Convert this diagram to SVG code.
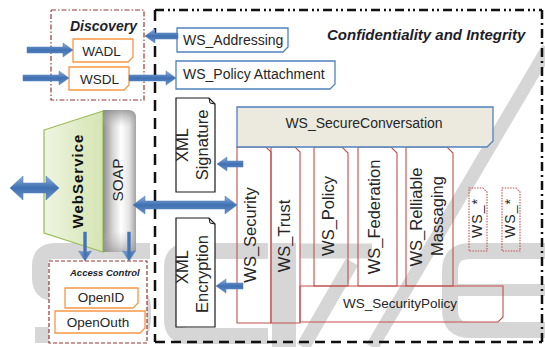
<svg xmlns="http://www.w3.org/2000/svg" width="545" height="347" viewBox="0 0 545 347">
<defs>
<linearGradient id="gArrowH" x1="0" y1="0" x2="0" y2="1"><stop offset="0" stop-color="#8fb0dc"/><stop offset="0.5" stop-color="#3f70b2"/><stop offset="1" stop-color="#6a93c9"/></linearGradient>
<linearGradient id="gArrowV" x1="0" y1="0" x2="1" y2="0"><stop offset="0" stop-color="#8fb0dc"/><stop offset="0.5" stop-color="#3f70b2"/><stop offset="1" stop-color="#6a93c9"/></linearGradient>
<linearGradient id="gGreen" x1="0" y1="0" x2="1" y2="0"><stop offset="0" stop-color="#eef4e1"/><stop offset="1" stop-color="#d5e5b2"/></linearGradient>
<linearGradient id="gSoap" x1="0" y1="0" x2="1" y2="0"><stop offset="0" stop-color="#8c8c8c"/><stop offset="0.3" stop-color="#d6d6d6"/><stop offset="0.55" stop-color="#ffffff"/><stop offset="0.8" stop-color="#e2e2e2"/><stop offset="1" stop-color="#a3a3a3"/></linearGradient>
<linearGradient id="gSoapV" x1="0" y1="0" x2="0" y2="1"><stop offset="0" stop-color="#8c8c8c" stop-opacity="0.8"/><stop offset="0.12" stop-color="#bdbdbd" stop-opacity="0"/><stop offset="0.85" stop-color="#bdbdbd" stop-opacity="0"/><stop offset="1" stop-color="#8c8c8c" stop-opacity="0.6"/></linearGradient>
</defs>
<style>
text{font-family:"Liberation Sans",Arial,sans-serif;fill:#262626}
.t14{font-size:14px}
.t13{font-size:13.5px}
.v{font-size:16.5px}
.hd{font-weight:bold;font-style:italic;fill:#1e1e2a}
.blue{fill:#fff;stroke:#4f81bd;stroke-width:1.3}
.org{fill:#fff;stroke:#f79646;stroke-width:1.3}
.red{fill:none;stroke:#c0504d;stroke-width:1.1}
.reddot{fill:none;stroke:#c0504d;stroke-width:1.1;stroke-dasharray:1.5 1.2}
.blk{fill:#fff;stroke:#1a1a1a;stroke-width:1.2}
.fold{fill:none;stroke-width:1}
.arrH{fill:url(#gArrowH);stroke:#4a7ab8;stroke-width:0.5}
.arrV{fill:url(#gArrowV);stroke:#4a7ab8;stroke-width:0.5}
.frame{fill:none;stroke:#111;stroke-width:2.5}
.grp{fill:none;stroke:#953735;stroke-width:1.2}
.wm{fill:none;stroke:#d6d6d6}
</style>

<g id="watermark">
<path class="wm" stroke-width="16" d="M150,251 H55 Q40,251 40,266 V278 Q40,293 55,293 H128 Q143,293 143,308 V320 Q143,335 128,335 H35"/>
<path class="wm" stroke-width="16" d="M268,251 H188 Q172,251 172,267 V320 Q172,336 188,336 H268"/>
<line class="wm" stroke-width="24" x1="284" y1="243" x2="284" y2="347"/>
<line class="wm" stroke-width="15" x1="300" y1="251" x2="372" y2="251"/>
<line class="wm" stroke-width="14" x1="303" y1="347" x2="352" y2="262"/>
<line class="wm" stroke-width="13" x1="548" y1="48" x2="372" y2="347"/>
<path class="wm" stroke-width="16" d="M545,251 H470 Q450,251 450,271 V310 Q450,330 470,330 H545"/>
<line class="wm" stroke-width="12" x1="458" y1="290" x2="545" y2="290"/>
</g>

<g id="frame-confidentiality">
<line class="frame" x1="155" y1="10" x2="542" y2="10" stroke-dasharray="9 4 2 3 2 4"/>
<line class="frame" x1="155" y1="10" x2="155" y2="342" stroke-dasharray="11 7"/>
<line class="frame" x1="155" y1="342" x2="542" y2="342" stroke-dasharray="10 6"/>
<line class="frame" x1="542" y1="10" x2="542" y2="342" stroke-dasharray="9 4 2 4"/>
<text class="hd" x="327" y="40" font-size="15">Confidentiality and Integrity</text>
</g>

<g id="discovery">
<rect class="grp" x="51" y="10" width="93" height="90" stroke-dasharray="5 2 1.5 2"/>
<text class="hd" x="70" y="31" font-size="14">Discovery</text>
</g>
<g id="wadl">
<path class="org" d="M73,39 H133 V57 L128,62 H73 Z"/>
<text class="t13" x="101.5" y="56" text-anchor="middle">WADL</text>
</g>
<g id="wsdl">
<path class="org" d="M69,67 H129 V85 L124,90 H69 Z"/>
<text class="t13" x="99.5" y="83.5" text-anchor="middle">WSDL</text>
</g>

<g id="ws-addressing">
<path class="blue" d="M177,28 H288 V47 L283,52 H177 Z"/>
<text class="t14" x="183" y="44.5">WS_Addressing</text>
</g>
<g id="ws-policy-attachment">
<path class="blue" d="M176,61 H335 V84 L330,89 H176 Z"/>
<text class="t14" x="183" y="78.5">WS_Policy Attachment</text>
</g>

<g id="web-service">
<polygon points="44,130 103,111 103,252 44,233" fill="url(#gGreen)" stroke="#9bbb59" stroke-width="1.2"/>
<text transform="translate(78,181) rotate(-90)" dy="0.36em" text-anchor="middle" font-size="15" font-weight="bold" letter-spacing="1" style="fill:#111">WebService</text>
</g>
<g id="soap">
<path d="M103,110 H128 Q136,110 136,118 V250 Q136,252 134,252 H103 Z" fill="url(#gSoap)"/>
<path d="M103,110 H128 Q136,110 136,118 V250 Q136,252 134,252 H103 Z" fill="url(#gSoapV)"/>
<text transform="translate(117,180) rotate(-90)" dy="0.36em" text-anchor="middle" font-size="15.5">SOAP</text>
</g>

<g id="access-control">
<rect class="grp" x="49" y="261" width="98" height="82" fill="#fff" stroke-dasharray="4 2" style="fill:#fff"/>
<text class="hd" x="70" y="276" font-size="9.5">Access Control</text>
</g>
<g id="openid">
<path class="org" d="M65,288 H138 V303 L133,308 H65 Z"/>
<text class="t13" x="101" y="302" text-anchor="middle">OpenID</text>
</g>
<g id="openouth">
<path class="org" d="M55,311 H145 V328 L140,333 H55 Z"/>
<text class="t13" x="98" y="327" text-anchor="middle">OpenOuth</text>
</g>

<g id="xml-signature">
<path class="blk" d="M176,98 H209 L215,104 V192 H176 Z"/>
<path class="fold" stroke="#1a1a1a" d="M209,98 L210,103 L215,104"/>
<text transform="translate(182.5,145) rotate(-90)" dy="0.36em" text-anchor="middle" font-size="16.5">XML</text>
<text transform="translate(202,145) rotate(-90)" dy="0.36em" text-anchor="middle" font-size="16.5">Signature</text>
</g>
<g id="xml-encryption">
<path class="blk" d="M176,218 H209 L215,224 V327 H176 Z"/>
<path class="fold" stroke="#1a1a1a" d="M209,218 L210,223 L215,224"/>
<text transform="translate(182.5,267) rotate(-90)" dy="0.36em" text-anchor="middle" font-size="16.5">XML</text>
<text transform="translate(202,274) rotate(-90)" dy="0.36em" text-anchor="middle" font-size="16.5">Encryption</text>
</g>

<g id="ws-security">
<path class="red" d="M237,147 H266 L271,152 V323 H237 Z"/>
<text class="v" transform="translate(250,235) rotate(-90)" dy="0.36em" text-anchor="middle">WS_Security</text>
</g>
<g id="ws-trust">
<path class="red" d="M271,147 H295 L300,152 V323 H271 Z"/>
<text class="v" transform="translate(284,236) rotate(-90)" dy="0.36em" text-anchor="middle">WS_Trust</text>
</g>
<g id="ws-policy">
<path class="red" d="M314,147 H342 L348,153 V286 H314 Z"/>
<text class="v" transform="translate(328,216) rotate(-90)" dy="0.36em" text-anchor="middle">WS_Policy</text>
</g>
<g id="ws-federation">
<path class="red" d="M358,147 H391 L397,153 V286 H358 Z"/>
<text class="v" transform="translate(374,217) rotate(-90)" dy="0.36em" text-anchor="middle">WS_Federation</text>
</g>
<g id="ws-reliable-messaging">
<path class="red" d="M406,147 H447 L453,153 V286 H406 Z"/>
<text class="v" transform="translate(416,217) rotate(-90)" dy="0.36em" text-anchor="middle">WS_Relliable</text>
<text class="v" transform="translate(437.5,216) rotate(-90)" dy="0.36em" text-anchor="middle">Massaging</text>
</g>
<g id="ws-secure-conversation">
<path d="M237,107 H493 V141 L487,147 H237 Z" fill="#eceadf" stroke="#4f81bd" stroke-width="1.3"/>
<text class="t14" x="364" y="128" text-anchor="middle">WS_SecureConversation</text>
</g>
<g id="ws-security-policy">
<path class="red" d="M300,286 H503 V317 L498,322 H300 Z"/>
<text class="t13" x="400" y="308" text-anchor="middle">WS_SecurityPolicy</text>
</g>
<g id="ws-star-1">
<path class="reddot" d="M469,188 H483 L487,192 V251 H469 Z"/>
<text transform="translate(477,218) rotate(-90)" dy="0.36em" text-anchor="middle" font-size="14" letter-spacing="1">WS_*</text>
</g>
<g id="ws-star-2">
<path class="reddot" d="M502,188 H516 L520,192 V251 H502 Z"/>
<text transform="translate(510,218) rotate(-90)" dy="0.36em" text-anchor="middle" font-size="14" letter-spacing="1">WS_*</text>
</g>

<g id="connectors">
<polygon class="arrH" points="27,47 63,47 63,43 73,50 63,57 63,53 27,53"/>
<polygon class="arrH" points="23,75 59,75 59,71 69,78 59,85 59,81 23,81"/>
<polygon class="arrH" points="129,75 166,75 166,71 176,78 166,85 166,81 129,81"/>
<polygon class="arrH" points="178,33 155,33 155,29 145,36 155,43 155,39 178,39"/>
<polygon class="arrH" points="243,161 227,161 227,157 217,164 227,171 227,167 243,167"/>
<polygon class="arrH" points="243,283 226,283 226,279 216,286 226,293 226,289 243,289"/>
<polygon class="arrH" points="133,205 145,196 145,201 225,201 225,196 237,205 225,214 225,209 145,209 145,214"/>
<polygon class="arrH" points="10,188 23,176 23,183 46,183 46,176 59,188 46,200 46,193 23,193 23,200"/>
<polygon class="arrV" points="83.5,232 86.5,232 86.5,252 91.5,251 85,261 78.5,251 83.5,252"/>
<polygon class="arrV" points="127.5,232 130.5,232 130.5,252 135.5,251 129,261 122.5,251 127.5,252"/>
</g>
</svg>
